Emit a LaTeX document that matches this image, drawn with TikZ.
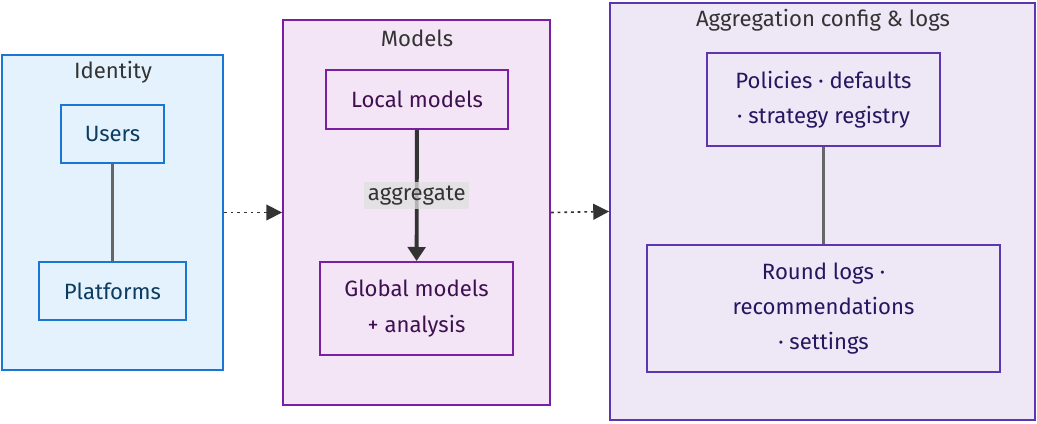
\documentclass[tikz,border=0pt]{standalone}
\usepackage{fontspec}
\setmainfont{Fira Sans}
\usetikzlibrary{arrows.meta}

\definecolor{idfill}{HTML}{E3F2FD}
\definecolor{iddraw}{HTML}{1976D2}
\definecolor{idtext}{HTML}{0D3C61}
\definecolor{mofill}{HTML}{F3E5F5}
\definecolor{modraw}{HTML}{7B1FA2}
\definecolor{motext}{HTML}{3E1050}
\definecolor{agfill}{HTML}{EDE7F6}
\definecolor{agdraw}{HTML}{5E35B1}
\definecolor{agtext}{HTML}{261660}
\definecolor{ink}{HTML}{333333}

\tikzset{
  cluster/.style={draw, line width=1.1pt, inner sep=0pt},
  box/.style={draw, line width=1.1pt, align=center, inner sep=0pt,
    font=\fontsize{12.6}{20}\selectfont},
  title/.style={text=ink, font=\fontsize{12.6}{20}\selectfont},
  link/.style={draw=black!60, line width=1.4pt},
  flow/.style={draw=ink, line width=0.9pt, dash pattern=on 1.6pt off 2.2pt,
    -{Triangle[length=9pt,width=9pt]}}
}

\begin{document}
\begin{tikzpicture}[x=0.02cm,y=-0.02cm]
\useasboundingbox (0,0) rectangle (1037,423);

% clusters
\node[cluster, fill=idfill, draw=iddraw, minimum width=4.42cm, minimum height=6.3cm] (identity) at (112.5,212.5) {};
\node[cluster, fill=mofill, draw=modraw, minimum width=5.34cm, minimum height=7.7cm] (models) at (416.5,212.5) {};
\node[cluster, fill=agfill, draw=agdraw, minimum width=8.5cm, minimum height=8.34cm] (aggcfg) at (822.5,211.5) {};

\node[title] (idtitle) at (113,72) {Identity};
\node[title] (motitle) at (417,38) {Models};
\node[title] (agtitle) at (823,20) {Aggregation config \& logs};

% identity
\node[box, fill=idfill, draw=iddraw, text=idtext, minimum width=2.06cm, minimum height=1.16cm] (users) at (112.5,134) {Users};
\node[box, fill=idfill, draw=iddraw, text=idtext, minimum width=2.94cm, minimum height=1.16cm] (platforms) at (112.5,291) {Platforms};
\draw[link] (users) -- (platforms);

% models
\node[box, fill=mofill, draw=modraw, text=motext, minimum width=3.64cm, minimum height=1.18cm] (local) at (417,99.5) {Local models};
\node[box, fill=mofill, draw=modraw, text=motext, minimum width=3.86cm, minimum height=1.86cm] (global) at (416.5,308.5) {Global models\\+ analysis};
\draw[draw=ink, line width=2.2pt, -{Triangle[length=8pt,width=10pt]}] (local) -- (global)
  node[midway, fill=black!12, fill opacity=0.75, text opacity=1, text=ink, inner sep=2pt,
    font=\fontsize{12.6}{20}\selectfont] (agglabel) {aggregate};

% config & logs
\node[box, fill=agfill, draw=agdraw, text=agtext, minimum width=4.66cm, minimum height=1.86cm] (policies) at (823.5,99.5) {Policies · defaults\\· strategy registry};
\node[box, fill=agfill, draw=agdraw, text=agtext, minimum width=7.06cm, minimum height=2.54cm] (roundlogs) at (823.5,308.5) {Round logs ·\\recommendations\\· settings};
\draw[link] (policies) -- (roundlogs);

% between clusters
\draw[flow] (identity.east) -- (models.west);
\draw[flow] (models.east) -- (aggcfg.west);
\end{tikzpicture}
\end{document}
